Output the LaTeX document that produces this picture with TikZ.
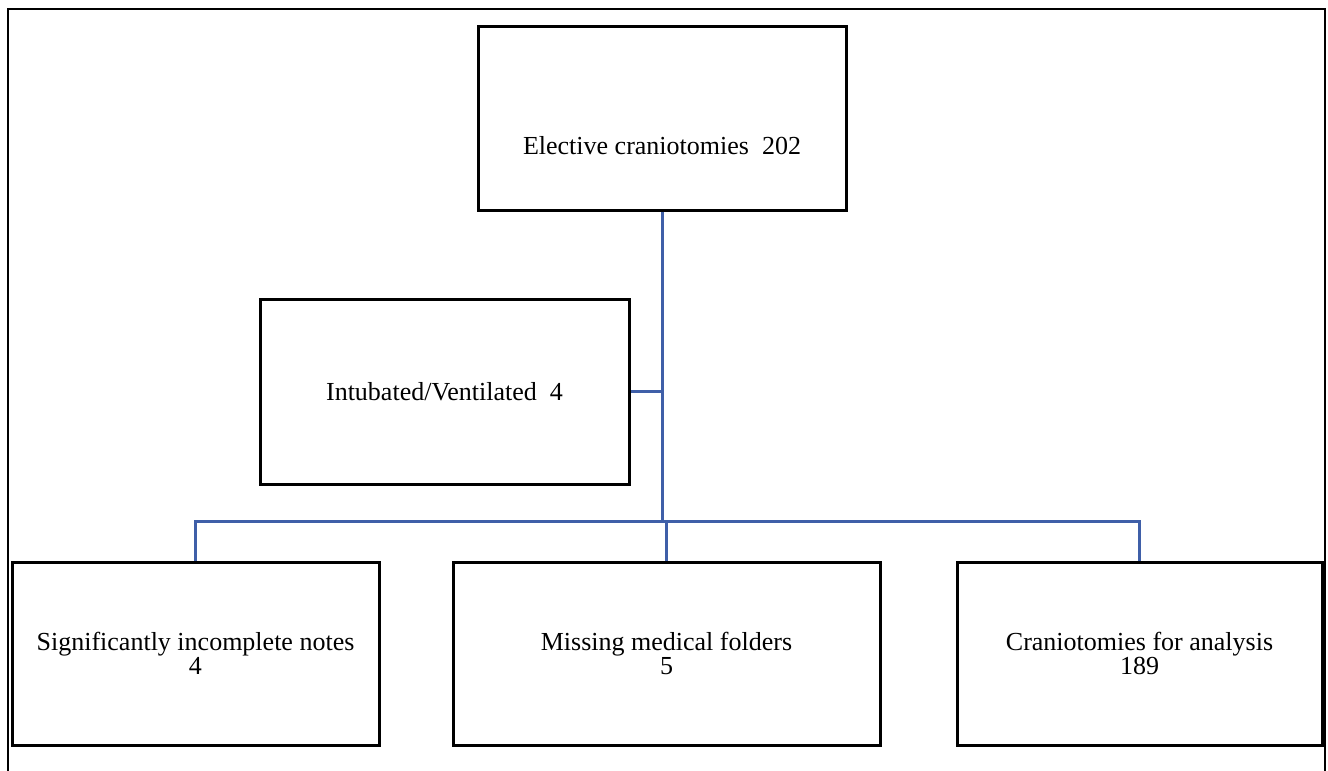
\documentclass[tikz,border=0pt]{standalone}
\usepackage{fontspec}
\setmainfont{Liberation Serif}
\usepackage{xcolor}
\definecolor{linkblue}{RGB}{63,95,168}

\tikzset{
  box/.style={draw=black, line width=3pt, inner sep=0pt, align=center},
  link/.style={draw=linkblue, line width=3pt},
  boxtext/.style={align=center, font=\fontsize{26}{24}\selectfont}
}

\begin{document}
\begin{tikzpicture}[x=1pt, y=-1pt]
				\useasboundingbox (0,0) rectangle (1328,771);
				% Outer frame
				\draw[line width=2.5pt] (8,771) -- (8,9) -- (1325,9) -- (1325,771);
				
				% Boxes
				\node[box, minimum width=368pt, minimum height=184pt] (top) at (662,118) {};
				\node[boxtext] (toptext) at (662,146) {Elective craniotomies\ \ 202};
				
				\node[box, boxtext, minimum width=369pt, minimum height=185pt] (intub) at (444.5,391.5) {Intubated/Ventilated\ \ 4};
				
				\node[box, boxtext, minimum width=367pt, minimum height=183pt] (incomplete) at (195.5,653.5) {Significantly incomplete notes\\4};
				\node[box, boxtext, minimum width=427pt, minimum height=183pt] (missing) at (666.5,653.5) {Missing medical folders\\5};
				\node[box, boxtext, minimum width=365pt, minimum height=183pt] (analysis) at (1139.5,653.5) {Craniotomies for analysis\\189};
				
				% Connectors
				\coordinate (trunk) at (662,521);
				\draw[link] (top.south) -- (trunk);
				\draw[link] (intub.east) -- (intub.east -| trunk);
				\draw[link] (incomplete.north) |- (analysis.north |- trunk) -- (analysis.north);
				\draw[link] (missing.north |- trunk) -- (missing.north);
			\end{tikzpicture}
\end{document}
